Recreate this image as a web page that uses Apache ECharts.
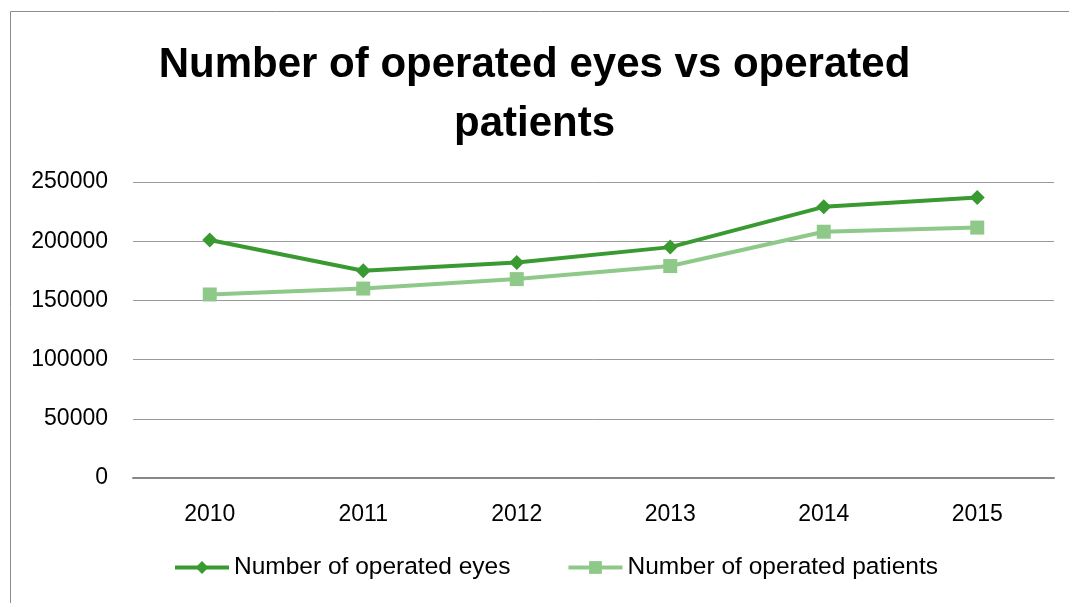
<!DOCTYPE html>
<html><head><meta charset="utf-8">
<script src="https://cdn.jsdelivr.net/npm/echarts@6/dist/echarts.min.js"></script>
<style>html,body{margin:0;padding:0;background:#fff}#c{width:1069px;height:603px}</style>
</head><body><div id="c"></div>
<script>
const years = ['2010','2011','2012','2013','2014','2015'];
const eyes = [201000, 175000, 182000, 195000, 229000, 237000];
const patients = [155000, 160000, 168000, 179000, 208000, 211500];
const seriesNames = ['Number of operated eyes', 'Number of operated patients'];
const titleText = 'Number of operated eyes vs operated\npatients';

const chart = echarts.init(document.getElementById('c'), null, {renderer:'canvas'});
const font = 'Liberation Sans';
chart.setOption({
  backgroundColor: '#fff',
  animation: false,
  graphic: [{type:'rect', shape:{x:10.5,y:11.5,width:1200,height:800}, style:{fill:'none', stroke:'#8c8c8c', lineWidth:1}, silent:true}],
  title: {text: titleText, left:'center', top: 31, textStyle:{fontFamily:font, fontWeight:'bold', fontSize:42, color:'#000', lineHeight:59}},
  legend: {bottom: 18, left: 168, itemGap: 56, itemWidth: 54, itemHeight: 16,
    lineStyle:{width:4},
    textStyle:{fontFamily:font, fontSize:24.5, color:'#000'}, data: seriesNames},
  grid: {left:133, right:15, top:182, bottom:125},
  xAxis: {type:'category', data: years, boundaryGap:true,
    axisLine:{lineStyle:{color:'#888', width:2}}, axisTick:{show:false},
    axisLabel:{fontFamily:font, fontSize:23, color:'#000', margin:25}},
  yAxis: {type:'value', min:0, max:250000, interval:50000,
    axisLine:{show:false}, axisTick:{show:false},
    splitLine:{lineStyle:{color:'#9a9a9a', width:1}},
    axisLabel:{fontFamily:font, fontSize:23, color:'#000', margin:25, formatter: v => String(v)}},
  series: [
    {name: seriesNames[0], type:'line', data: eyes, symbol:'diamond', symbolSize:15,
      lineStyle:{color:'#3a9a32', width:4}, itemStyle:{color:'#3a9a32'}},
    {name: seriesNames[1], type:'line', data: patients, symbol:'rect', symbolSize:14,
      lineStyle:{color:'#8fc98a', width:4}, itemStyle:{color:'#8fc98a'}}
  ]
});
</script></body></html>
